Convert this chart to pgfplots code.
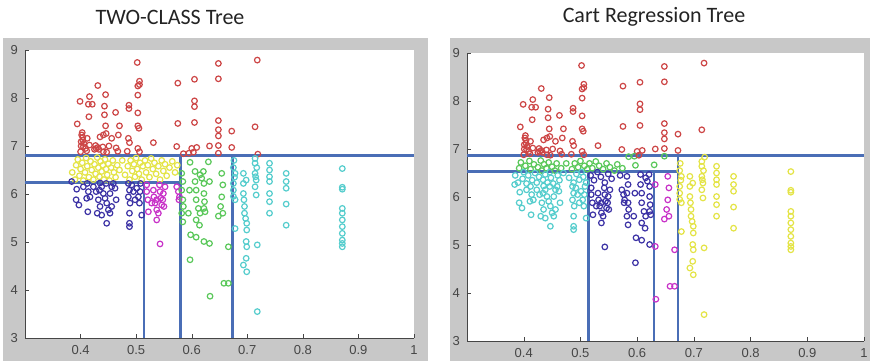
\documentclass[border=0pt]{standalone}
\usepackage{fontspec}
\setmainfont{Carlito}
\newfontfamily\arial{Liberation Sans}
\usepackage{pgfplots}
\usepackage{pgfplotstable}
\pgfplotsset{compat=1.18}
\definecolor{framegray}{RGB}{200,200,200}
\definecolor{axgray}{RGB}{70,70,70}
\definecolor{lineblue}{RGB}{74,110,182}
\definecolor{cred}{RGB}{205,70,70}
\definecolor{cyel}{RGB}{228,228,70}
\definecolor{cblue}{RGB}{60,50,165}
\definecolor{cmag}{RGB}{200,50,200}
\definecolor{cgreen}{RGB}{90,200,90}
\definecolor{ccyan}{RGB}{85,205,205}
\pgfplotstableread{
x y L R
0.502 8.74 r r
0.648 8.72 r r
0.718 8.79 r r
0.648 8.40 r r
0.605 8.39 r r
0.575 8.31 r r
0.506 8.35 r r
0.506 8.28 r r
0.503 8.25 r r
0.431 8.26 r r
0.445 8.07 r r
0.416 8.03 r r
0.503 8.06 r r
0.399 7.93 r r
0.414 7.87 r r
0.421 7.87 r r
0.443 7.83 r r
0.487 7.85 r r
0.487 7.78 r r
0.605 7.94 r r
0.605 7.82 r r
0.463 7.70 r r
0.503 7.69 r r
0.415 7.61 r r
0.443 7.65 r r
0.394 7.46 r r
0.648 7.53 r r
0.575 7.47 r r
0.605 7.49 r r
0.445 7.42 r r
0.470 7.42 r r
0.503 7.42 r r
0.505 7.37 r r
0.648 7.34 r r
0.648 7.21 r r
0.672 7.31 r r
0.714 7.40 r r
0.403 7.28 r r
0.402 7.23 r r
0.404 7.18 r r
0.435 7.19 r r
0.446 7.26 r r
0.441 7.23 r r
0.412 7.16 r r
0.456 7.16 r r
0.468 7.23 r r
0.486 7.16 r r
0.488 7.07 r r
0.401 7.09 r r
0.401 7.00 r r
0.405 6.99 r r
0.416 7.02 r r
0.427 7.01 r r
0.431 6.97 r r
0.425 6.93 r r
0.440 6.98 r r
0.451 7.00 r r
0.464 6.96 r r
0.503 6.95 r r
0.531 7.07 r r
0.573 6.99 r r
0.600 6.95 r r
0.609 6.97 r r
0.632 7.00 r r
0.648 7.01 r r
0.672 6.97 r r
0.400 6.88 r r
0.411 6.90 r r
0.441 6.88 r r
0.447 6.87 r r
0.467 6.89 r r
0.484 6.89 r r
0.506 6.88 r r
0.585 6.84 r g
0.595 6.85 r g
0.603 6.87 r r
0.719 6.83 r y
0.648 6.85 r g
0.404 7.12 r r
0.406 7.05 r r
0.428 6.95 r r
0.433 6.93 r r
0.409 6.95 r r
0.385 6.45 y c
0.390 6.30 y c
0.392 6.60 y g
0.395 6.72 y g
0.398 6.38 y c
0.400 6.52 y c
0.403 6.65 y g
0.405 6.28 y c
0.408 6.45 y c
0.410 6.75 y g
0.412 6.58 y g
0.415 6.35 y c
0.418 6.68 y g
0.420 6.50 y c
0.423 6.30 y c
0.425 6.62 y g
0.427 6.42 y c
0.430 6.76 y g
0.432 6.55 y g
0.434 6.36 y c
0.436 6.68 y g
0.438 6.47 y c
0.440 6.60 y g
0.442 6.30 y c
0.444 6.72 y g
0.446 6.52 y c
0.448 6.40 y c
0.450 6.63 y g
0.452 6.28 y c
0.455 6.55 y g
0.458 6.70 y g
0.460 6.45 y c
0.463 6.35 y c
0.466 6.60 y g
0.470 6.50 y c
0.475 6.70 y g
0.480 6.40 y c
0.485 6.58 y g
0.488 6.30 y c
0.490 6.70 y g
0.493 6.48 y c
0.496 6.62 y g
0.498 6.36 y c
0.500 6.75 y g
0.502 6.52 y c
0.505 6.42 y c
0.507 6.65 y g
0.510 6.30 y c
0.512 6.58 y g
0.516 6.70 y g
0.518 6.45 y b
0.521 6.60 y g
0.524 6.35 y b
0.527 6.74 y g
0.530 6.52 y b
0.533 6.65 y g
0.536 6.42 y b
0.540 6.58 y g
0.543 6.30 y b
0.546 6.70 y g
0.549 6.48 y b
0.552 6.62 y g
0.555 6.38 y b
0.560 6.55 y g
0.565 6.68 y g
0.570 6.45 y b
0.574 6.60 y g
0.384 6.26 b c
0.393 6.10 b c
0.392 5.88 b c
0.397 5.77 b c
0.411 5.91 b c
0.414 6.05 b c
0.412 6.22 b c
0.413 5.63 b c
0.430 5.60 b c
0.432 5.88 b c
0.434 6.08 b c
0.435 6.23 b c
0.438 6.15 b c
0.441 6.01 b c
0.444 5.91 b c
0.447 5.81 b c
0.450 5.67 b c
0.447 5.39 b c
0.453 6.01 b c
0.456 6.15 b c
0.459 6.22 b c
0.462 6.12 b c
0.464 5.88 b c
0.446 6.22 b c
0.428 6.05 b c
0.423 6.15 b c
0.486 6.22 b c
0.488 6.08 b c
0.486 5.94 b c
0.489 5.81 b c
0.488 5.60 b c
0.488 5.39 b c
0.488 5.32 b c
0.495 6.05 b c
0.498 5.88 b c
0.501 6.12 b c
0.504 5.94 b c
0.508 6.22 b c
0.507 6.05 b c
0.506 5.81 b c
0.510 5.56 b c
0.492 6.19 b c
0.405 6.15 b c
0.417 5.94 b c
0.435 5.74 b c
0.438 5.56 b c
0.456 5.74 b c
0.453 5.60 b c
0.519 6.19 m b
0.519 6.05 m b
0.521 5.88 m b
0.522 5.63 m b
0.531 6.08 m b
0.532 5.94 m b
0.534 5.81 m b
0.537 5.67 m b
0.537 5.46 m b
0.542 6.19 m b
0.543 6.05 m b
0.544 5.91 m b
0.546 5.77 m b
0.548 5.88 m b
0.549 6.01 m b
0.550 5.74 m b
0.552 6.15 m b
0.543 4.96 m b
0.573 6.15 m b
0.576 6.05 m b
0.578 5.94 m b
0.577 5.88 m b
0.537 5.88 m b
0.540 5.60 m b
0.528 5.81 m b
0.582 6.43 g b
0.584 6.26 g b
0.582 6.08 g b
0.584 5.88 g b
0.585 5.74 g b
0.582 5.60 g b
0.584 5.42 g b
0.597 6.66 g g
0.606 6.47 g b
0.606 6.26 g b
0.608 6.08 g b
0.608 5.88 g b
0.612 5.70 g b
0.608 5.46 g b
0.614 5.35 g b
0.598 5.15 g b
0.608 5.10 g b
0.597 4.63 g b
0.615 6.40 g b
0.618 6.33 g b
0.621 6.47 g b
0.622 6.22 g b
0.622 6.01 g b
0.623 5.84 g b
0.622 5.70 g b
0.624 5.63 g b
0.630 6.67 g g
0.632 6.26 g m
0.622 5.01 g b
0.632 4.97 g m
0.633 3.87 g m
0.654 6.43 g m
0.656 6.19 g m
0.654 5.94 g m
0.652 5.74 g m
0.648 5.54 g m
0.656 5.60 g m
0.666 4.90 g m
0.658 4.14 g m
0.666 4.14 g m
0.594 5.60 g b
0.596 6.08 g b
0.615 5.60 g b
0.678 6.43 c y
0.678 5.88 c y
0.678 5.28 c y
0.676 6.70 c y
0.677 6.35 c y
0.675 6.55 c y
0.675 6.22 c y
0.675 6.08 c y
0.675 5.95 c y
0.693 6.43 c y
0.693 6.22 c y
0.693 6.01 c y
0.694 5.88 c y
0.695 5.74 c y
0.695 5.60 c y
0.697 5.49 c y
0.699 5.39 c y
0.699 5.25 c y
0.698 5.01 c y
0.699 4.90 c y
0.698 4.66 c y
0.693 4.52 c y
0.699 4.38 c y
0.698 6.29 c y
0.714 6.74 c y
0.714 6.64 c y
0.714 6.43 c y
0.716 6.29 c y
0.714 6.15 c y
0.716 5.98 c y
0.717 6.55 c y
0.715 6.36 c y
0.718 4.94 c y
0.718 3.55 c y
0.740 6.64 c y
0.740 6.50 c y
0.740 6.36 c y
0.740 6.26 c y
0.740 6.01 c y
0.740 5.84 c y
0.740 5.60 c y
0.770 6.43 c y
0.770 6.26 c y
0.770 6.12 c y
0.770 5.79 c y
0.770 5.35 c y
0.871 6.53 c y
0.871 6.14 c y
0.871 6.10 c y
0.871 5.70 c y
0.871 5.60 c y
0.871 5.46 c y
0.871 5.32 c y
0.871 5.18 c y
0.871 5.04 c y
0.871 4.97 c y
0.871 4.90 c y
}\pts
\pgfplotsset{
  treeaxis/.style={
    anchor=south west, scale only axis,
    xmin=0.3, xmax=1, ymin=3, ymax=9,
    xtick={0.4,0.5,0.6,0.7,0.8,0.9,1},
    ytick={3,4,5,6,7,8,9},
    axis lines*=left,
    axis line style={draw=axgray,-},
    tick style={draw=axgray},
    tick align=inside,
    major tick length=2pt,
    axis background/.style={fill=white},
    /pgf/number format/assume math mode=true,
    ticklabel style={font=\arial\fontsize{6.5}{7}\selectfont, text=axgray},
    clip=true,
  },
  pts/.style={scatter, only marks, scatter src=explicit symbolic,
    mark size=1.4pt, line width=0.6pt,
    scatter/classes={
      r={mark=o,cred}, y={mark=o,cyel}, b={mark=o,cblue},
      m={mark=o,cmag}, g={mark=o,cgreen}, c={mark=o,ccyan}}},
  split/.style={lineblue, line width=1.25pt, no markers},
}
\begin{document}
\begin{tikzpicture}
\useasboundingbox (0,0) rectangle (437pt,181.5pt);
\fill[framegray] (1.5pt,1pt) rectangle (214pt,162.5pt);
\fill[framegray] (225pt,1pt) rectangle (435pt,162.5pt);
\node[font=\fontsize{11}{13}\selectfont, text={rgb,255:red,35;green,35;blue,35}] at (85pt,173pt) {TWO-CLASS Tree};
\node[font=\fontsize{11}{13}\selectfont, text={rgb,255:red,35;green,35;blue,35}] at (327pt,173pt) {Cart Regression Tree};
\begin{axis}[treeaxis, at={(12.5pt,12.5pt)}, width=194.5pt, height=144pt]
\addplot[pts] table[x=x, y=y, meta=L] {\pts};
\addplot[split] coordinates {(0.3,6.8) (1,6.8)};
\addplot[split] coordinates {(0.3,6.24) (0.58,6.24)};
\addplot[split] coordinates {(0.514,3) (0.514,6.24)};
\addplot[split] coordinates {(0.58,3) (0.58,6.8)};
\addplot[split] coordinates {(0.673,3) (0.673,6.8)};
\end{axis}
\begin{axis}[treeaxis, at={(233.5pt,11pt)}, width=198.5pt, height=144pt]
\addplot[pts] table[x=x, y=y, meta=R] {\pts};
\addplot[split] coordinates {(0.3,6.86) (1,6.86)};
\addplot[split] coordinates {(0.3,6.53) (0.672,6.53)};
\addplot[split] coordinates {(0.514,3) (0.514,6.53)};
\addplot[split] coordinates {(0.63,3) (0.63,6.53)};
\addplot[split] coordinates {(0.672,3) (0.672,6.86)};
\end{axis}
\end{tikzpicture}
\end{document}
